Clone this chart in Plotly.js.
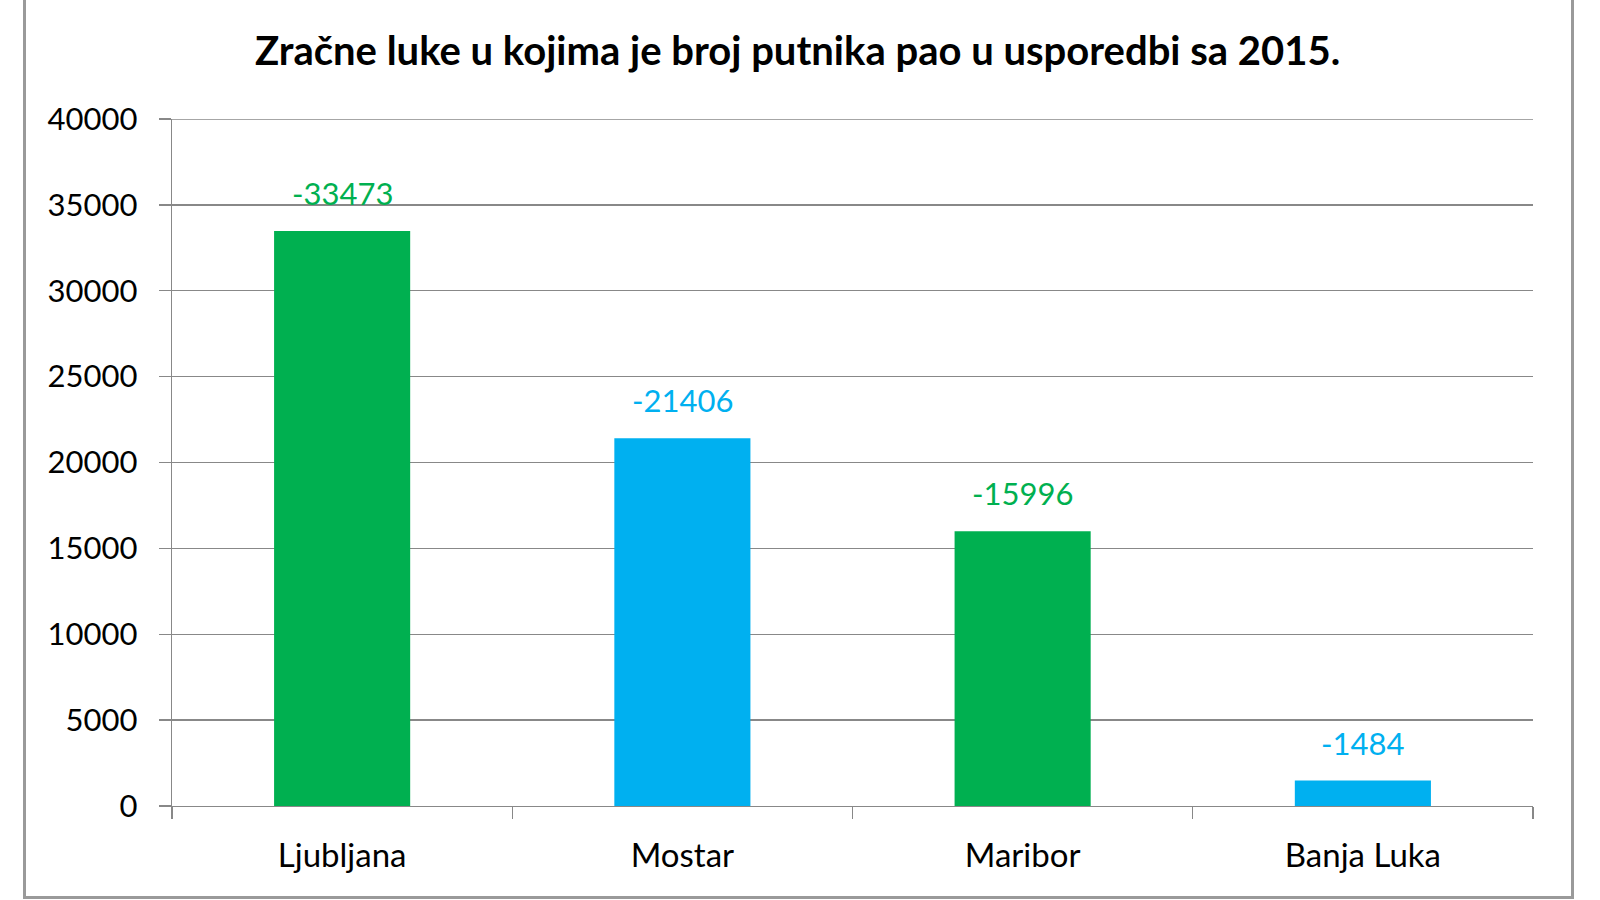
<!DOCTYPE html>
<html>
<head>
<meta charset="utf-8">
<script src="https://cdn.plot.ly/plotly-3.0.1.min.js"></script>
<style>
  html, body { margin: 0; padding: 0; background: #fff; overflow: hidden; }
  #chart { position: absolute; left: 0; top: 0; width: 1600px; height: 900px; }
  #frame { position: absolute; left: 23px; top: -10px; width: 1551px; height: 909px;
           box-sizing: border-box; border: 3px solid #9a9a9a; pointer-events: none; }
</style>
</head>
<body>
<div id="chart"></div>
<div id="frame"></div>
<script>
const chartTitle = 'Zračne luke u kojima je broj putnika pao u usporedbi sa 2015.';
const airports = ['Ljubljana', 'Mostar', 'Maribor', 'Banja Luka'];
const passengerChange = [-33473, -21406, -15996, -1484];
const barColors = ['#00B050', '#00B0F0', '#00B050', '#00B0F0'];
const yTickValues = [0, 5000, 10000, 15000, 20000, 25000, 30000, 35000, 40000];

const FONT = 'Lato, "Open Sans", sans-serif';
const GRID = '#888888';

const heights = passengerChange.map(v => Math.abs(v));
const yMax = yTickValues[yTickValues.length - 1];

const trace = {
  type: 'bar',
  x: airports,
  y: heights,
  marker: { color: barColors, line: { width: 0 } },
  hoverinfo: 'skip'
};

const annotations = airports.map((a, i) => ({
  x: a,
  y: heights[i],
  xref: 'x',
  yref: 'y',
  text: String(passengerChange[i]),
  showarrow: false,
  yanchor: 'bottom',
  yshift: 17,
  font: { family: FONT, size: 31, color: barColors[i] }
}));

const layout = {
  width: 1600,
  height: 900,
  paper_bgcolor: 'rgba(0,0,0,0)',
  plot_bgcolor: 'rgba(0,0,0,0)',
  margin: { l: 172, r: 67, t: 119, b: 93.5, pad: 0 },
  showlegend: false,
  bargap: 0.6,
  title: {
    text: '<b>' + chartTitle + '</b>',
    xref: 'container',
    yref: 'container',
    x: 0.4985,
    xanchor: 'center',
    y: 1 - 50.5 / 900,
    yanchor: 'middle',
    font: { family: FONT, size: 40, color: '#000' }
  },
  xaxis: {
    type: 'category',
    tickson: 'boundaries',
    ticks: 'outside',
    ticklen: 12,
    tickwidth: 1.3,
    tickcolor: GRID,
    showline: true,
    linecolor: GRID,
    linewidth: 1.3,
    showgrid: false,
    zeroline: false,
    ticklabelstandoff: 20,
    tickfont: { family: FONT, size: 33, color: '#000' }
  },
  yaxis: {
    range: [0, yMax],
    tickvals: yTickValues,
    ticktext: yTickValues.map(String),
    ticks: 'outside',
    ticklen: 12,
    tickwidth: 1.3,
    tickcolor: GRID,
    showline: true,
    linecolor: GRID,
    linewidth: 1.3,
    showgrid: true,
    gridcolor: GRID,
    gridwidth: 1.3,
    zeroline: false,
    ticklabelstandoff: 15,
    tickfont: { family: FONT, size: 31, color: '#000' }
  },
  shapes: [{
    type: 'line',
    xref: 'paper', x0: 0, x1: 1,
    yref: 'y', y0: yMax, y1: yMax,
    line: { color: GRID, width: 1.3 },
    layer: 'below'
  }],
  annotations: annotations
};

Plotly.newPlot('chart', [trace], layout, { staticPlot: true, displayModeBar: false });
</script>
</body>
</html>
